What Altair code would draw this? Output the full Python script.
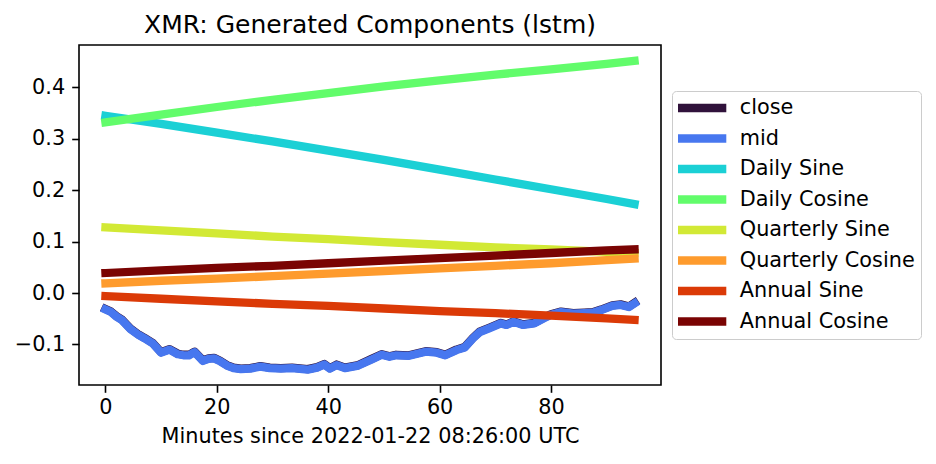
import altair as alt
import pandas as pd

SERIES = [
    "close",
    "mid",
    "Daily Sine",
    "Daily Cosine",
    "Quarterly Sine",
    "Quarterly Cosine",
    "Annual Sine",
    "Annual Cosine",
]
COLOURS = [
    "#30123b",
    "#4777ef",
    "#1bd0d5",
    "#62fc6b",
    "#d2e935",
    "#fe9b2d",
    "#db3a07",
    "#7a0403",
]

# price series (minutes, value)
PRICE_MINUTES = [
    0, 1, 2, 3, 4.5, 6, 7, 8.5, 10, 11.5, 13, 14, 15, 16, 17.5, 18.5, 19.5,
    20.5, 21.8, 23, 24.3, 26, 27.8, 29.5, 31.5, 33.5, 36.3, 38, 39.3, 40.3,
    41.5, 43, 45.4, 47.8, 49.6, 51, 52.2, 54.5, 56, 57.5, 59.5, 61, 63, 64.5,
    66, 67.2, 69, 71, 72, 73.3, 75, 77, 78.7, 80, 81.8, 84, 86, 87.5, 89, 91,
    92.5, 94, 95,
]
MID = [
    -0.032, -0.037, -0.046, -0.053, -0.070, -0.082, -0.088, -0.098, -0.116,
    -0.110, -0.119, -0.121, -0.121, -0.115, -0.132, -0.128, -0.127, -0.132,
    -0.141, -0.146, -0.148, -0.147, -0.143, -0.146, -0.147, -0.146, -0.149,
    -0.145, -0.139, -0.147, -0.140, -0.146, -0.141, -0.129, -0.120, -0.124,
    -0.121, -0.122, -0.118, -0.114, -0.116, -0.121, -0.111, -0.106, -0.088,
    -0.076, -0.068, -0.059, -0.062, -0.056, -0.062, -0.059, -0.049, -0.042,
    -0.037, -0.040, -0.039, -0.038, -0.033, -0.025, -0.023, -0.027, -0.020,
]
CLOSE = [
    -0.031, -0.036, -0.045, -0.052, -0.069, -0.081, -0.087, -0.097, -0.115,
    -0.109, -0.118, -0.120, -0.120, -0.114, -0.131, -0.127, -0.126, -0.131,
    -0.140, -0.145, -0.147, -0.146, -0.142, -0.145, -0.146, -0.145, -0.148,
    -0.144, -0.138, -0.146, -0.139, -0.145, -0.140, -0.128, -0.119, -0.123,
    -0.120, -0.121, -0.117, -0.113, -0.115, -0.120, -0.110, -0.105, -0.087,
    -0.075, -0.067, -0.058, -0.061, -0.055, -0.061, -0.058, -0.048, -0.041,
    -0.036, -0.039, -0.038, -0.037, -0.032, -0.024, -0.022, -0.026, -0.019,
]

# generated components
COMPONENT_MINUTES = [0, 10, 20, 30, 40, 50, 60, 70, 80, 90, 95]
DAILY_SINE = [0.345, 0.329, 0.312, 0.295, 0.277, 0.259, 0.240, 0.221, 0.202, 0.183, 0.173]
DAILY_COSINE = [0.332, 0.347, 0.362, 0.376, 0.389, 0.402, 0.414, 0.425, 0.435, 0.446, 0.452]
QUARTERLY_SINE = [0.128, 0.122, 0.116, 0.110, 0.105, 0.099, 0.094, 0.089, 0.085, 0.080, 0.078]
QUARTERLY_COSINE = [0.019, 0.024, 0.028, 0.033, 0.038, 0.043, 0.048, 0.053, 0.058, 0.064, 0.067]
ANNUAL_SINE = [-0.006, -0.011, -0.016, -0.021, -0.025, -0.030, -0.035, -0.039, -0.044, -0.049, -0.052]
ANNUAL_COSINE = [0.039, 0.044, 0.049, 0.053, 0.058, 0.063, 0.068, 0.073, 0.078, 0.083, 0.085]

X_TICKS = [0, 20, 40, 60, 80]
Y_TICKS = [-0.1, 0.0, 0.1, 0.2, 0.3, 0.4]

FONT = "DejaVu Sans"


def build_frame():
    parts = [
        ("close", PRICE_MINUTES, CLOSE),
        ("mid", PRICE_MINUTES, MID),
        ("Daily Sine", COMPONENT_MINUTES, DAILY_SINE),
        ("Daily Cosine", COMPONENT_MINUTES, DAILY_COSINE),
        ("Quarterly Sine", COMPONENT_MINUTES, QUARTERLY_SINE),
        ("Quarterly Cosine", COMPONENT_MINUTES, QUARTERLY_COSINE),
        ("Annual Sine", COMPONENT_MINUTES, ANNUAL_SINE),
        ("Annual Cosine", COMPONENT_MINUTES, ANNUAL_COSINE),
    ]
    frames = []
    for name, xs, ys in parts:
        frames.append(pd.DataFrame({"series": name, "minute": xs, "value": ys}))
    return pd.concat(frames, ignore_index=True)


df = build_frame()

base = alt.Chart(df).encode(
    x=alt.X(
        "minute:Q",
        scale=alt.Scale(domain=[-4.75, 99.75], nice=False, zero=False),
        axis=alt.Axis(
            values=X_TICKS,
            title="Minutes since 2022-01-22 08:26:00 UTC",
            titlePadding=9,
            labelPadding=5,
        ),
    ),
    y=alt.Y(
        "value:Q",
        scale=alt.Scale(domain=[-0.1788, 0.4826], nice=False, zero=False),
        axis=alt.Axis(values=Y_TICKS, format=".1f", title=None, labelPadding=7),
    ),
    color=alt.Color(
        "series:N",
        scale=alt.Scale(domain=SERIES, range=COLOURS),
        legend=alt.Legend(
            title=None,
            orient="none",
            legendX=593,
            legendY=46,
            symbolType="M-2.5,0H2.5",
            symbolSize=400,
            symbolStrokeWidth=8.3,
            symbolOffset=8.8,
            clipHeight=22,
            labelFont=FONT,
            labelFontSize=20.8,
            labelColor="black",
            labelOffset=24,
            labelLimit=400,
            rowPadding=8.5,
            padding=6,
            strokeColor="#cccccc",
            fillColor="white",
            cornerRadius=4,
        ),
    ),
)

# one layer per series so later series are drawn on top, like the original
layers = [
    base.transform_filter(alt.datum.series == name).mark_line(
        strokeWidth=8.3, strokeCap="square", strokeJoin="round"
    )
    for name in SERIES
]

chart = (
    alt.layer(*layers)
    .properties(
        width=582,
        height=340,
        title=alt.TitleParams(
            "XMR: Generated Components (lstm)",
            font=FONT,
            fontSize=25,
            fontWeight="normal",
            color="black",
            frame="group",
            offset=7,
        ),
        autosize=alt.AutoSizeParams(type="none"),
        padding={"left": 71, "top": 37, "right": 267, "bottom": 71},
    )
    .configure_view(stroke="black", strokeWidth=1.6)
    .configure_axis(
        grid=False,
        domain=False,
        ticks=True,
        tickSize=7.3,
        tickWidth=1.6,
        tickColor="black",
        labelFont=FONT,
        labelFontSize=20.8,
        labelColor="black",
        titleFont=FONT,
        titleFontSize=20.8,
        titleFontWeight="normal",
        titleColor="black",
    )
)

chart.save("out.html", embed_options={"renderer": "svg", "actions": False})
